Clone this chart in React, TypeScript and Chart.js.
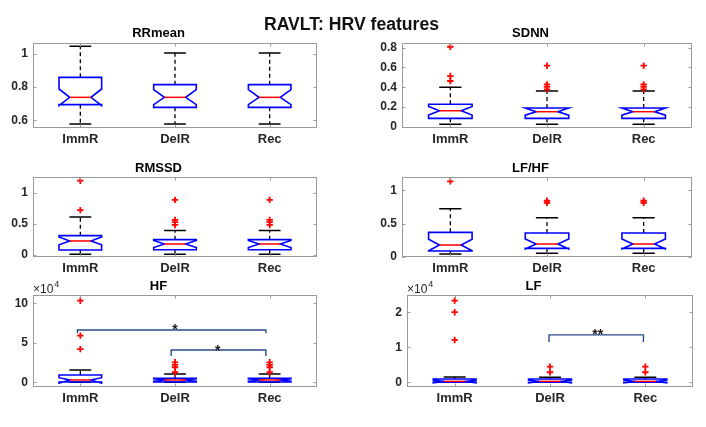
import React, { useEffect, useRef } from 'react';
import { Chart, registerables } from 'chart.js';

Chart.register(...registerables);

const FONT = "'Liberation Sans', Arial, Helvetica, sans-serif";

const categories = ['ImmR', 'DelR', 'Rec'];

// ---- RRmean ----
const rrmeanLowerWhisker = [0.578, 0.578, 0.578];
const rrmeanQ1 = [0.694, 0.678, 0.678];
const rrmeanMedian = [0.738, 0.738, 0.738];
const rrmeanQ3 = [0.858, 0.814, 0.814];
const rrmeanUpperWhisker = [1.044, 1.004, 1.004];
const rrmeanNotchLow = [0.688, 0.694, 0.694];
const rrmeanNotchHigh = [0.788, 0.784, 0.784];
const rrmeanOutliers: number[][] = [[], [], []];
const rrmeanTicks = [0.6, 0.8, 1];
const rrmeanRange = [0.554, 1.064];

// ---- SDNN ----
const sdnnLowerWhisker = [0.024, 0.024, 0.024];
const sdnnQ1 = [0.085, 0.085, 0.085];
const sdnnMedian = [0.162, 0.152, 0.152];
const sdnnQ3 = [0.227, 0.189, 0.189];
const sdnnUpperWhisker = [0.4, 0.362, 0.362];
const sdnnNotchLow = [0.118, 0.117, 0.117];
const sdnnNotchHigh = [0.205, 0.189, 0.189];
const sdnnOutliers = [[0.81, 0.513, 0.463], [0.618, 0.429, 0.405, 0.379], [0.618, 0.429, 0.405, 0.379]];
const sdnnTicks = [0, 0.2, 0.4, 0.6, 0.8];
const sdnnRange = [-0.013, 0.848];

// ---- RMSSD ----
const rmssdLowerWhisker = [0.011, 0.011, 0.011];
const rmssdQ1 = [0.081, 0.086, 0.086];
const rmssdMedian = [0.227, 0.178, 0.178];
const rmssdQ3 = [0.313, 0.248, 0.248];
const rmssdUpperWhisker = [0.616, 0.394, 0.394];
const rmssdNotchLow = [0.165, 0.122, 0.122];
const rmssdNotchHigh = [0.29, 0.235, 0.235];
const rmssdOutliers = [[1.2, 0.725], [0.89, 0.567, 0.53, 0.486], [0.89, 0.567, 0.53, 0.486]];
const rmssdTicks = [0, 0.5, 1];
const rmssdRange = [-0.032, 1.26];

// ---- LF/HF ----
const lfhfLowerWhisker = [0.045, 0.055, 0.055];
const lfhfQ1 = [0.09, 0.13, 0.13];
const lfhfMedian = [0.18, 0.195, 0.195];
const lfhfQ3 = [0.37, 0.36, 0.36];
const lfhfUpperWhisker = [0.724, 0.589, 0.589];
const lfhfNotchLow = [0.095, 0.12, 0.12];
const lfhfNotchHigh = [0.265, 0.27, 0.27];
const lfhfOutliers = [[1.135], [0.844, 0.814], [0.844, 0.814]];
const lfhfTicks = [0, 0.5, 1];
const lfhfRange = [0, 1.2];

// ---- HF ----
const hfLowerWhisker = [150, 100, 100];
const hfQ1 = [300, 250, 250];
const hfMedian = [2900, 2900, 2900];
const hfQ3 = [9200, 5000, 5000];
const hfUpperWhisker = [15600, 10500, 10500];
const hfNotchLow = [-1200, 1400, 1400];
const hfNotchHigh = [5800, 4400, 4400];
const hfOutliers = [[103300, 59000, 42000], [25300, 21900, 19000, 12700], [25300, 21900, 19000, 12700]];
const hfTicks = [0, 50000, 100000];
const hfRange = [-6000, 110500];
const hfBracketFrom = [0.97, 1.96];
const hfBracketTo = [2.96, 2.96];
const hfBracketTop = [66200, 40900];
const hfBracketLeg = [62000, 33300];
const hfBracketLabel = ['*', '*'];
const hfBracketLabelX = [2.0, 2.45];
const hfBracketLabelY = [71600, 45000];

// ---- LF ----
const lfLowerWhisker = [50, 50, 50];
const lfQ1 = [100, 60, 60];
const lfMedian = [300, 300, 300];
const lfQ3 = [970, 970, 970];
const lfUpperWhisker = [1530, 1500, 1500];
const lfNotchLow = [-100, -100, -100];
const lfNotchHigh = [700, 700, 700];
const lfOutliers = [[23300, 20000, 12100], [4500, 2900], [4500, 2900]];
const lfTicks = [0, 10000, 20000];
const lfRange = [-1300, 24900];
const lfBracketFrom = [1.99];
const lfBracketTo = [2.98];
const lfBracketTop = [13550];
const lfBracketLeg = [11500];
const lfBracketLabel = ['**'];
const lfBracketLabelX = [2.5];
const lfBracketLabelY = [14500];

type Spec = {
  title: string;
  lower: number[]; q1: number[]; median: number[]; q3: number[]; upper: number[];
  notchLow: number[]; notchHigh: number[]; outliers: number[][];
  ticks: number[]; range: number[]; divisor: number; exponent?: string;
  bracket?: { from: number[]; to: number[]; top: number[]; leg: number[]; label: string[]; lx: number[]; ly: number[] };
};

const specs: Spec[] = [
  { title: 'RRmean', lower: rrmeanLowerWhisker, q1: rrmeanQ1, median: rrmeanMedian, q3: rrmeanQ3, upper: rrmeanUpperWhisker, notchLow: rrmeanNotchLow, notchHigh: rrmeanNotchHigh, outliers: rrmeanOutliers, ticks: rrmeanTicks, range: rrmeanRange, divisor: 1 },
  { title: 'SDNN', lower: sdnnLowerWhisker, q1: sdnnQ1, median: sdnnMedian, q3: sdnnQ3, upper: sdnnUpperWhisker, notchLow: sdnnNotchLow, notchHigh: sdnnNotchHigh, outliers: sdnnOutliers, ticks: sdnnTicks, range: sdnnRange, divisor: 1 },
  { title: 'RMSSD', lower: rmssdLowerWhisker, q1: rmssdQ1, median: rmssdMedian, q3: rmssdQ3, upper: rmssdUpperWhisker, notchLow: rmssdNotchLow, notchHigh: rmssdNotchHigh, outliers: rmssdOutliers, ticks: rmssdTicks, range: rmssdRange, divisor: 1 },
  { title: 'LF/HF', lower: lfhfLowerWhisker, q1: lfhfQ1, median: lfhfMedian, q3: lfhfQ3, upper: lfhfUpperWhisker, notchLow: lfhfNotchLow, notchHigh: lfhfNotchHigh, outliers: lfhfOutliers, ticks: lfhfTicks, range: lfhfRange, divisor: 1 },
  { title: 'HF', lower: hfLowerWhisker, q1: hfQ1, median: hfMedian, q3: hfQ3, upper: hfUpperWhisker, notchLow: hfNotchLow, notchHigh: hfNotchHigh, outliers: hfOutliers, ticks: hfTicks, range: hfRange, divisor: 10000, exponent: '4',
    bracket: { from: hfBracketFrom, to: hfBracketTo, top: hfBracketTop, leg: hfBracketLeg, label: hfBracketLabel, lx: hfBracketLabelX, ly: hfBracketLabelY } },
  { title: 'LF', lower: lfLowerWhisker, q1: lfQ1, median: lfMedian, q3: lfQ3, upper: lfUpperWhisker, notchLow: lfNotchLow, notchHigh: lfNotchHigh, outliers: lfOutliers, ticks: lfTicks, range: lfRange, divisor: 10000, exponent: '4',
    bracket: { from: lfBracketFrom, to: lfBracketTo, top: lfBracketTop, leg: lfBracketLeg, label: lfBracketLabel, lx: lfBracketLabelX, ly: lfBracketLabelY } },
];

// plot-area rectangles (page pixels)
const layouts = [
  { left: 33, top: 43, right: 317, bottom: 128, titleGap: 10 },
  { left: 402, top: 43, right: 692, bottom: 128, titleGap: 10 },
  { left: 33, top: 177, right: 317, bottom: 257, titleGap: 8.5 },
  { left: 402, top: 177, right: 692, bottom: 257, titleGap: 8.5 },
  { left: 33, top: 295, right: 317, bottom: 387, titleGap: 8.5 },
  { left: 407, top: 295, right: 693, bottom: 387, titleGap: 8.5 },
];

const AXW = 33;
const TOPH = 30;
const XAXH = 22;
const PADR = 6;
const PADB = 2;
const BOX_W = 0.45;
const CAP_W = 0.23;
const AXIS_GRAY = '#9a9a9a';
const TEXT = '#262626';
const BRACKET = '#2a4a8a';

function Panel({ spec, layout }: { spec: Spec; layout: typeof layouts[number] }) {
  const ref = useRef<HTMLCanvasElement>(null);
  const w = AXW + (layout.right - layout.left) + PADR;
  const h = TOPH + (layout.bottom - layout.top) + XAXH + PADB;

  useEffect(() => {
    const canvas = ref.current!;
    const datasets: any[] = [];
    const outPts: { x: number; y: number }[] = [];
    spec.outliers.forEach((arr, i) => arr.forEach((v) => outPts.push({ x: i + 1, y: v })));
    datasets.push({
      label: 'outliers',
      data: outPts,
      pointStyle: 'cross',
      pointRadius: 3.2,
      pointBorderWidth: 1.8,
      borderColor: '#ff0000',
      backgroundColor: '#ff0000',
      showLine: false,
    });
    if (spec.bracket) {
      const b = spec.bracket;
      b.from.forEach((f, k) => {
        datasets.push({
          label: 'bracket' + k,
          data: [
            { x: f, y: b.leg[k] },
            { x: f, y: b.top[k] },
            { x: b.to[k], y: b.top[k] },
            { x: b.to[k], y: b.leg[k] },
          ],
          showLine: true,
          borderColor: BRACKET,
          borderWidth: 1.4,
          pointRadius: 0,
          fill: false,
        });
      });
    }

    const boxPlugin = {
      id: 'notchedBoxes',
      beforeDatasetsDraw(chart: any) {
        const { ctx } = chart;
        const xs = chart.scales.x;
        const ys = chart.scales.y;
        const X = (v: number) => xs.getPixelForValue(v);
        const Y = (v: number) => ys.getPixelForValue(v);
        ctx.save();
        for (let i = 0; i < categories.length; i++) {
          const c = i + 1;
          // whiskers
          ctx.strokeStyle = '#000';
          ctx.lineWidth = 1.3;
          ctx.setLineDash([4, 3]);
          ctx.beginPath();
          ctx.moveTo(X(c), Y(spec.q3[i]));
          ctx.lineTo(X(c), Y(spec.upper[i]));
          ctx.moveTo(X(c), Y(spec.q1[i]));
          ctx.lineTo(X(c), Y(spec.lower[i]));
          ctx.stroke();
          ctx.setLineDash([]);
          // caps
          ctx.lineWidth = 1.5;
          ctx.beginPath();
          ctx.moveTo(X(c - CAP_W / 2), Y(spec.upper[i]));
          ctx.lineTo(X(c + CAP_W / 2), Y(spec.upper[i]));
          ctx.moveTo(X(c - CAP_W / 2), Y(spec.lower[i]));
          ctx.lineTo(X(c + CAP_W / 2), Y(spec.lower[i]));
          ctx.stroke();
          // notched box
          const xl = X(c - BOX_W / 2), xr = X(c + BOX_W / 2);
          const xil = X(c - BOX_W / 4), xir = X(c + BOX_W / 4);
          ctx.strokeStyle = '#0000ff';
          ctx.lineWidth = 1.6;
          ctx.beginPath();
          ctx.moveTo(xl, Y(spec.q1[i]));
          ctx.lineTo(xl, Y(spec.notchLow[i]));
          ctx.lineTo(xil, Y(spec.median[i]));
          ctx.lineTo(xl, Y(spec.notchHigh[i]));
          ctx.lineTo(xl, Y(spec.q3[i]));
          ctx.lineTo(xr, Y(spec.q3[i]));
          ctx.lineTo(xr, Y(spec.notchHigh[i]));
          ctx.lineTo(xir, Y(spec.median[i]));
          ctx.lineTo(xr, Y(spec.notchLow[i]));
          ctx.lineTo(xr, Y(spec.q1[i]));
          ctx.closePath();
          ctx.stroke();
          // median
          ctx.strokeStyle = '#ff0000';
          ctx.lineWidth = 1.5;
          ctx.beginPath();
          ctx.moveTo(xil, Y(spec.median[i]));
          ctx.lineTo(xir, Y(spec.median[i]));
          ctx.stroke();
        }
        ctx.restore();
      },
      afterDraw(chart: any) {
        const { ctx, chartArea: a } = chart;
        const xs = chart.scales.x;
        const ys = chart.scales.y;
        ctx.save();
        // axes box
        ctx.strokeStyle = AXIS_GRAY;
        ctx.lineWidth = 1;
        const L = Math.round(a.left) + 0.5, R = Math.round(a.right) - 0.5;
        const T = Math.round(a.top) + 0.5, B = Math.round(a.bottom) - 0.5;
        ctx.strokeRect(L, T, R - L, B - T);
        ctx.beginPath();
        spec.ticks.forEach((v) => {
          const y = Math.round(ys.getPixelForValue(v)) + 0.5;
          ctx.moveTo(L, y); ctx.lineTo(L + 3, y);
          ctx.moveTo(R, y); ctx.lineTo(R - 3, y);
        });
        categories.forEach((_, i) => {
          const x = Math.round(xs.getPixelForValue(i + 1)) + 0.5;
          ctx.moveTo(x, B); ctx.lineTo(x, B - 3);
          ctx.moveTo(x, T); ctx.lineTo(x, T + 3);
        });
        ctx.stroke();
        // exponent label
        if (spec.exponent) {
          ctx.fillStyle = TEXT;
          ctx.textBaseline = 'alphabetic';
          ctx.textAlign = 'left';
          ctx.font = `12px ${FONT}`;
          const base = '\u00d710';
          ctx.fillText(base, a.left, a.top - 2);
          const bw = ctx.measureText(base).width;
          ctx.font = `9px ${FONT}`;
          ctx.fillText(spec.exponent, a.left + bw + 1, a.top - 8);
        }
        // significance labels
        if (spec.bracket) {
          const b = spec.bracket;
          ctx.fillStyle = '#1a1a1a';
          ctx.textAlign = 'center';
          ctx.textBaseline = 'alphabetic';
          ctx.font = `bold 14px ${FONT}`;
          b.label.forEach((t, k) => {
            ctx.fillText(t, xs.getPixelForValue(b.lx[k]), ys.getPixelForValue(b.ly[k]) + 0.57 * 14);
          });
        }
        ctx.restore();
      },
    };

    const padTop = TOPH - layout.titleGap - 7.8;
    const chart = new Chart(canvas, {
      type: 'scatter',
      data: { datasets },
      options: {
        animation: false,
        responsive: false,
        devicePixelRatio: 1,
        layout: { padding: { top: 0, left: 0, right: PADR, bottom: PADB } },
        plugins: {
          legend: { display: false },
          tooltip: { enabled: false },
          title: {
            display: true,
            text: spec.title,
            color: '#000',
            font: { family: FONT, size: 13, weight: 'bold', lineHeight: 1.2 },
            padding: { top: padTop, bottom: TOPH - 15.6 - padTop },
          },
        },
        scales: {
          x: {
            type: 'linear',
            min: 0.5,
            max: 3.5,
            grid: { display: false, drawTicks: false },
            border: { display: false },
            afterBuildTicks: (s: any) => { s.ticks = categories.map((_, i) => ({ value: i + 1 })); },
            afterFit: (s: any) => { s.height = XAXH; },
            ticks: {
              autoSkip: false,
              maxRotation: 0,
              padding: 4,
              color: TEXT,
              font: { family: FONT, size: 13, weight: 'bold' },
              callback: (v: any) => categories[Math.round(Number(v)) - 1] ?? '',
            },
          },
          y: {
            type: 'linear',
            min: spec.range[0],
            max: spec.range[1],
            grid: { display: false, drawTicks: false },
            border: { display: false },
            afterBuildTicks: (s: any) => { s.ticks = spec.ticks.map((v) => ({ value: v })); },
            afterFit: (s: any) => { s.width = AXW; },
            ticks: {
              padding: 5,
              color: TEXT,
              font: { family: FONT, size: 12, weight: 'bold' },
              callback: (v: any) => String(Math.round((Number(v) / spec.divisor) * 1000) / 1000),
            },
          },
        },
      } as any,
      plugins: [boxPlugin],
    });
    return () => chart.destroy();
  }, []);

  return (
    <canvas
      ref={ref}
      width={w}
      height={h}
      style={{ position: 'absolute', left: layout.left - AXW, top: layout.top - TOPH, width: w, height: h }}
    />
  );
}

export default function App() {
  return (
    <div style={{ position: 'fixed', left: 0, top: 0, width: 706, height: 427, background: '#fff', overflow: 'hidden' }}>
      {specs.map((s, i) => (
        <Panel key={s.title} spec={s} layout={layouts[i]} />
      ))}
      <div
        style={{
          position: 'absolute', left: 0, top: 14, width: 703, textAlign: 'center',
          fontFamily: FONT, fontWeight: 'bold', fontSize: 17.6, lineHeight: '20px', color: '#111',
        }}
      >
        RAVLT: HRV features
      </div>
    </div>
  );
}
